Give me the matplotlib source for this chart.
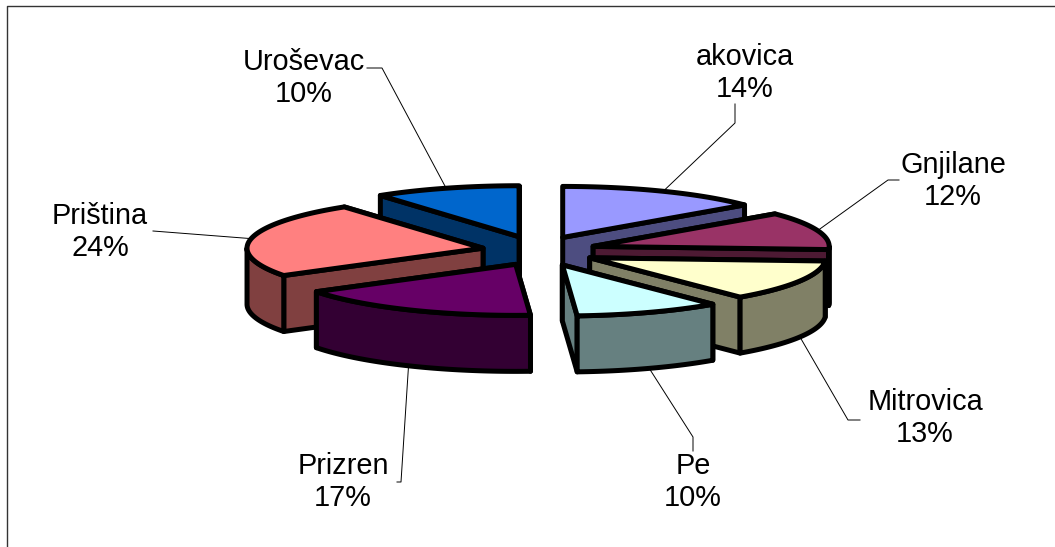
import numpy as np
import matplotlib
matplotlib.use('Agg')
import matplotlib.pyplot as plt
from matplotlib.patches import Polygon

plt.rcParams['font.family'] = ['Liberation Sans', 'DejaVu Sans']

names = ['akovica', 'Gnjilane', 'Mitrovica', 'Pe', 'Prizren', 'Priština', 'Uroševac']
values = [14, 12, 13, 10, 17, 24, 10]
top_colors = ['#9999FF', '#993366', '#FFFFCC', '#CCFFFF', '#660066', '#FF8080', '#0066CC']
side_colors = ['#4D4D80', '#4D1A33', '#808066', '#668080', '#330033', '#804040', '#003366']

# where each label sits, and the elbow of its leader line (pixels)
label_pos = [(745, 73), (953, 181), (925, 418), (693, 482), (343, 482), (100, 232), (304, 78)]
elbows = [[(735, 104), (735, 123)], [(899, 180), (888, 180)], [(860, 420), (848, 420)],
          [(693, 451), (693, 437)], [(397, 482), (401, 482)], [(153, 231)], [(367, 68), (382, 68)]]

# back to front
draw_order = [0, 6, 1, 5, 2, 4, 3]

cx, cy = 538, 251
rx, ry = 236, 51
ex, ey = 58, 15
# small sideways correction per slice, the original has some perspective
nudge = [0, 0, 0, 3, 4, 2, -1]
depth = 56
lw = 3.6

fig = plt.figure(figsize=(10.55, 5.47), dpi=100)
ax = fig.add_axes([0, 0, 1, 1])
ax.set_xlim(0, 1055)
ax.set_ylim(547, 0)
ax.axis('off')

# chart frame, only top and left show
ax.plot([7, 7, 1055], [547, 6, 6], color='#333333', lw=1.0, zorder=1)


def rim(ax0, ay0, deg):
    t = np.radians(deg)
    return ax0 + rx * np.sin(t), ay0 - ry * np.cos(t)


def face(points, color, z):
    ax.add_patch(Polygon(points, closed=True, facecolor=color, edgecolor='black',
                         lw=lw, joinstyle='round', zorder=z))


edges = np.concatenate([[0], np.cumsum(values)]) / np.sum(values) * 360
apexes = []
for i in range(len(values)):
    mid = np.radians((edges[i] + edges[i + 1]) / 2)
    apexes.append((cx + nudge[i] + ex * np.sin(mid), cy - ey * np.cos(mid)))

z = 2
for i in draw_order:
    a0, a1 = edges[i], edges[i + 1]
    ax0, ay0 = apexes[i]

    # cut faces, the one further back goes first
    cuts = sorted([a0, a1], key=lambda d: rim(ax0, ay0, d)[1])
    for d in cuts:
        x1, y1 = rim(ax0, ay0, d)
        face([(ax0, ay0), (x1, y1), (x1, y1 + depth), (ax0, ay0 + depth)], side_colors[i], z)
        z += 1

    # outer wall, only the front half of the rim
    w0, w1 = max(a0, 90), min(a1, 270)
    if w1 > w0:
        t = np.linspace(w0, w1, 60)
        xs, ys = rim(ax0, ay0, t)
        pts = list(zip(xs, ys)) + list(zip(xs[::-1], ys[::-1] + depth))
        face(pts, side_colors[i], z)
        z += 1

    # top
    t = np.linspace(a0, a1, 80)
    xs, ys = rim(ax0, ay0, t)
    face([(ax0, ay0)] + list(zip(xs, ys)), top_colors[i], z)
    z += 1

# leaders and labels
for i in range(len(values)):
    mid = (edges[i] + edges[i + 1]) / 2
    x1, y1 = rim(apexes[i][0], apexes[i][1], mid)
    if 90 < mid < 270:
        y1 += depth
    pts = elbows[i] + [(x1, y1)]
    ax.plot([p[0] for p in pts], [p[1] for p in pts], color='black', lw=0.7, zorder=1)
    ax.text(label_pos[i][0], label_pos[i][1], '%s\n%d%%' % (names[i], values[i]),
            ha='center', va='center', fontsize=20.8, linespacing=1.17, color='black', zorder=z)

fig.savefig('out.png', dpi=100)
